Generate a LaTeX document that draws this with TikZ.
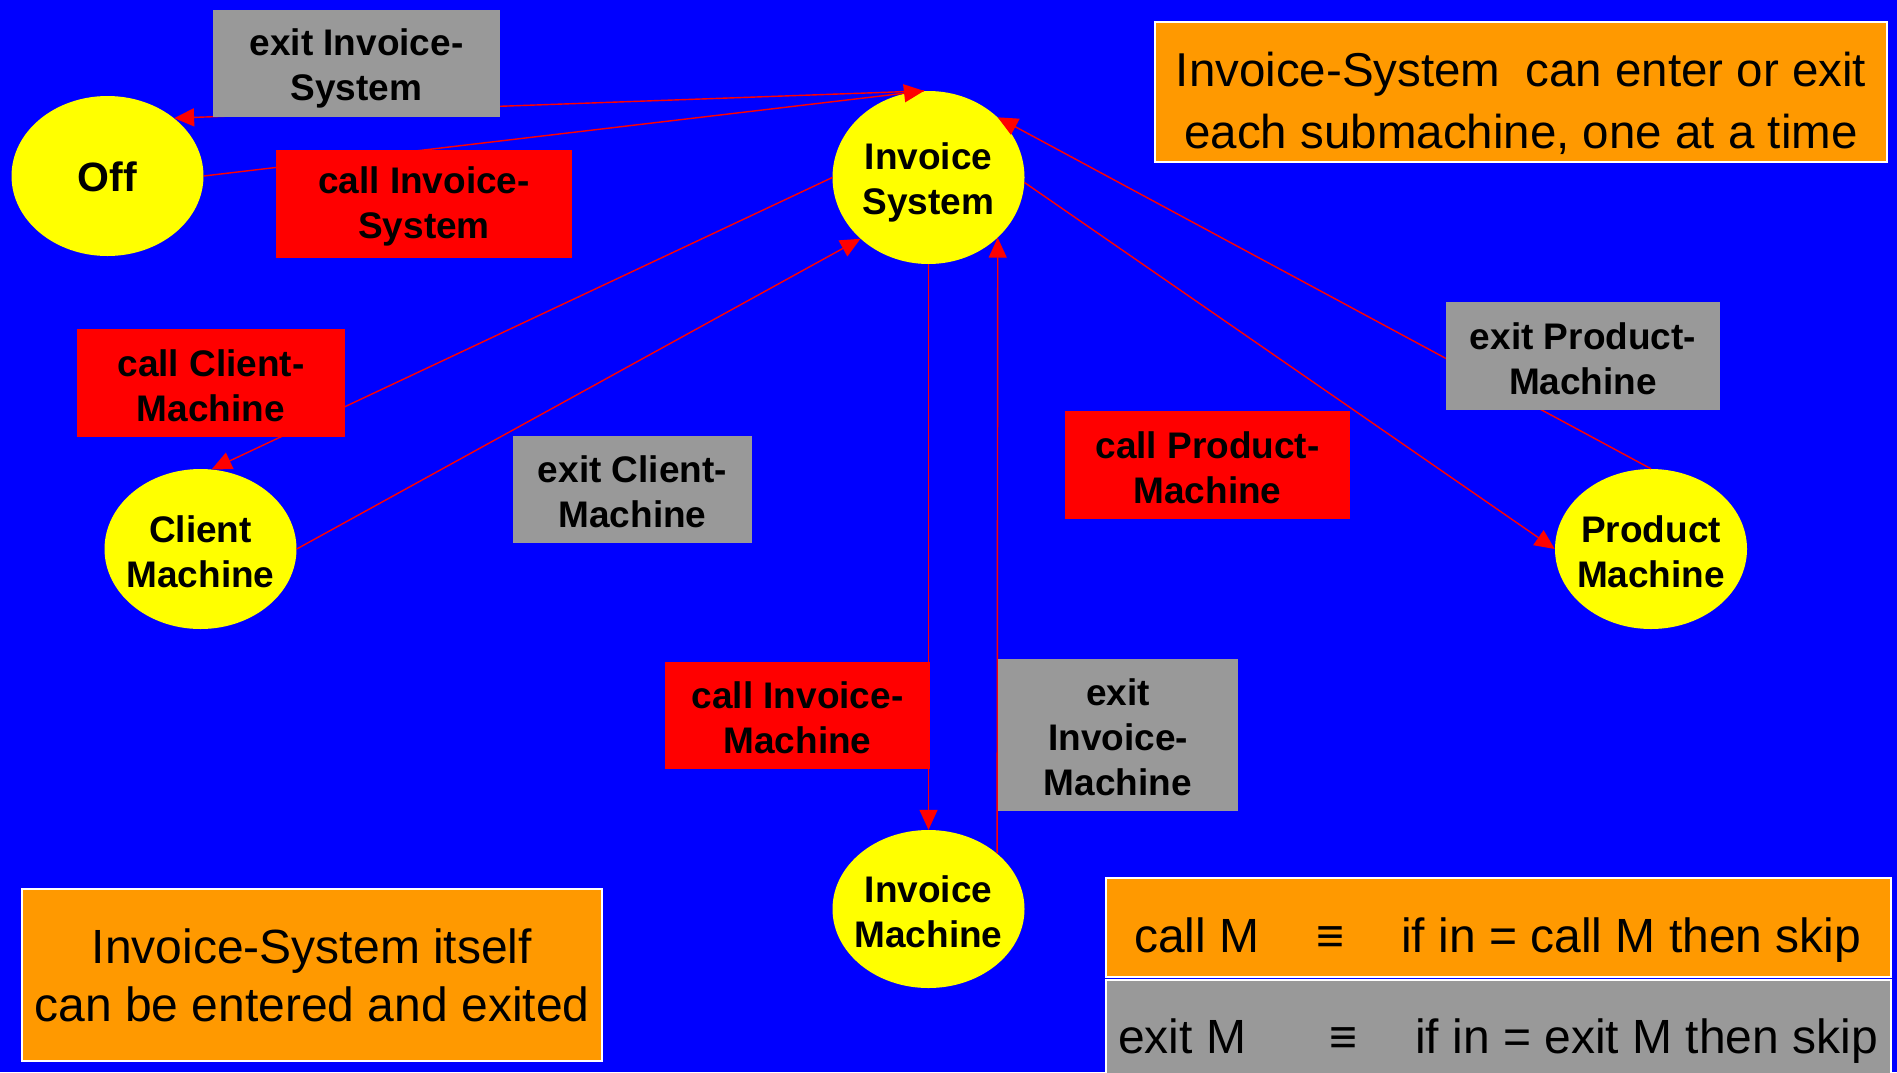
\documentclass[tikz,border=0pt]{standalone}
\usepackage{fontspec}
\setmainfont{Liberation Sans}
\usetikzlibrary{arrows.meta,shapes.geometric}

\definecolor{bgblue}{RGB}{0,0,255}
\definecolor{nodeyellow}{RGB}{255,255,0}
\definecolor{callred}{RGB}{255,0,0}
\definecolor{exitgray}{RGB}{153,153,153}
\definecolor{noteorange}{RGB}{255,153,0}

\begin{document}
\begin{tikzpicture}[x=1pt,y=-1pt,
  stateell/.style={ellipse, fill=nodeyellow, inner sep=0pt,
    minimum width=192pt, minimum height=160pt},
  boldtext/.style={font=\fontsize{37}{45}\selectfont\bfseries,
    align=center, inner sep=0pt, yshift=-2.5pt},
  trans/.style={draw=callred, line width=1.4pt,
    -{Triangle[length=20pt,width=18pt]}},
  tagbox/.style={inner sep=0pt},
  calltag/.style={tagbox, fill=callred},
  exittag/.style={tagbox, fill=exitgray},
  note/.style={fill=noteorange, draw=white, line width=2pt,
    align=center, inner sep=0pt},
  notetext/.style={font=\fontsize{48}{58}\selectfont, inner sep=0pt},
]
% background
\fill[bgblue] (0,0) rectangle (1897,1072);
\useasboundingbox (0,0) rectangle (1897,1072);

% states
\node[stateell, label={[boldtext,font=\fontsize{41}{45}\selectfont\bfseries,yshift=1.5pt]center:Off}] (off) at (107.5,176) {};
\node[stateell, minimum height=173pt, label={[boldtext,yshift=-2.5pt]center:{Invoice\\System}}] (is) at (928.5,177.5) {};
\node[stateell, label={[boldtext]center:{Client\\Machine}}] (cm) at (200.5,549) {};
\node[stateell, label={[boldtext]center:{Product\\Machine}}] (pm) at (1651,549) {};
\node[stateell, minimum height=158pt, label={[boldtext]center:{Invoice\\Machine}}] (im) at (928.5,909) {};

% transitions
\draw[trans] (is.93) -- (off.41);
\draw[trans] (off.east) -- (is.93);
\draw[trans] (is.west) -- (cm.82);
\draw[trans] (cm.east) -- (is.222);
\draw[trans] (is.south) -- (im.north);
\draw[trans] (im.39) -- (is.319);
\draw[trans] (is.-3) -- (pm.west);
\draw[trans] (pm.north) -- (is.41);

% transition tags
\node[exittag, minimum width=287pt, minimum height=107pt, label={[boldtext,yshift=-2.5pt]center:{exit Invoice-\\System}}] (tExitIS) at (356.5,63.5) {};
\node[calltag, minimum width=296pt, minimum height=108pt, label={[boldtext]center:{call Invoice-\\System}}] (tCallIS) at (424,204) {};
\node[calltag, minimum width=268pt, minimum height=108pt, label={[boldtext]center:{call Client-\\Machine}}] (tCallCM) at (211,383) {};
\node[exittag, minimum width=239pt, minimum height=107pt, label={[boldtext]center:{exit Client-\\Machine}}] (tExitCM) at (632.5,489.5) {};
\node[calltag, minimum width=285pt, minimum height=108pt, label={[boldtext]center:{call Product-\\Machine}}] (tCallPM) at (1207.5,465) {};
\node[exittag, minimum width=274pt, minimum height=108pt, label={[boldtext]center:{exit Product-\\Machine}}] (tExitPM) at (1583,356) {};
\node[calltag, minimum width=265pt, minimum height=107pt, label={[boldtext]center:{call Invoice-\\Machine}}] (tCallIM) at (797.5,715.5) {};
\node[exittag, minimum width=240pt, minimum height=152pt, label={[boldtext]center:{exit\\Invoice-\\Machine}}] (tExitIM) at (1118,735) {};

% notes
\node[note, minimum width=732pt, minimum height=140pt,
  label={[align=center, inner sep=0pt, yshift=-11pt,
    font=\fontsize{47.5}{62}\selectfont]center:{Invoice-System\hspace{0.25em} can enter or exit\\each submachine, one at a time}}]
  (noteTop) at (1521,92) {};
\node[note, minimum width=580pt, minimum height=172pt,
  font=\fontsize{48}{58}\selectfont] (noteBottom) at (312,975)
  {Invoice-System itself\\can be entered and exited};

% definitions of call and exit
\node[note, minimum width=785pt, minimum height=99pt, anchor=north west] (callDef) at (1105,877) {};
\node[note, fill=exitgray, minimum width=785pt, minimum height=110pt, anchor=north west] (exitDef) at (1105,979) {};
\node[notetext, anchor=base west] (callLhs) at (1134,952) {call M};
\node[notetext, anchor=base] (callEq) at (1330,952) {≡};
\node[notetext, anchor=base west] (callRhs) at (1401,952) {if in = call M then skip};
\node[notetext, anchor=base west] (exitLhs) at (1118,1053) {exit M};
\node[notetext, anchor=base] (exitEq) at (1343,1053) {≡};
\node[notetext, anchor=base west] (exitRhs) at (1415,1053) {if in = exit M then skip};
\end{tikzpicture}
\end{document}
